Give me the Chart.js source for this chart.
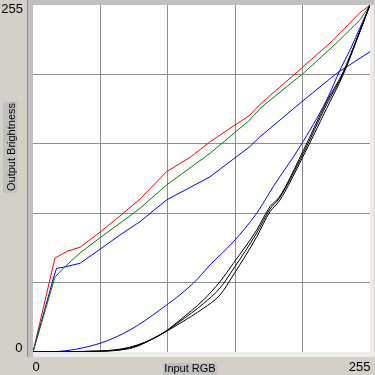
<!DOCTYPE html>
<html>
<head>
<meta charset="utf-8">
<script src="https://cdn.jsdelivr.net/npm/chart.js@4/dist/chart.umd.min.js"></script>
<style>
  html, body { margin:0; padding:0; background:#d4d0c8; }
  canvas { display:block; }
</style>
</head>
<body>
<canvas id="curvas" width="375" height="375"></canvas>
<script>
// ---- dados (entrada 0-255 -> saída 0-255) ----
const redX   = [0, 16.6, 25.7, 35.6, 50.7, 65.8, 81, 101, 118.8, 134, 164, 171.8, 204.5, 227, 247, 255];
const redY   = [0, 69, 74, 77, 88, 100, 112.4, 132.5, 143, 154.5, 174, 182, 209.7, 229, 249, 255];

const greenX = [0, 16.6, 22.9, 35.6, 50.7, 65.8, 81, 101, 134, 164, 171.8, 204.5, 228.5, 247.4, 255];
const greenY = [0, 55, 61.5, 72.8, 84, 94.6, 105.6, 122.7, 146, 170.5, 179, 204.8, 226, 244, 255];

const blueX  = [0, 15.4, 17.9, 22.9, 35.6, 50.7, 65.8, 81, 101, 134, 164, 171.8, 202, 229.8, 255];
const blueY  = [0, 54.2, 61.5, 62.2, 65.2, 75.5, 86, 95.8, 111.7, 128.8, 150.9, 158.2, 182.8, 204.8, 220.7];

const blue2X = [0, 15.4, 50.7, 73.4, 96, 121.3, 134, 151.6, 169.3, 181.8, 202, 222.2, 232.3, 239.9, 255];
const blue2Y = [0, 0.2, 6.4, 16.2, 30.9, 50.5, 64, 81, 102, 121.5, 150.9, 185.2, 207.2, 222, 255];

const blackX  = [0, 40, 73, 96, 111.2, 128.9, 141.5, 151.6, 169.3, 179.3, 186.4, 204.5, 222.2, 234.8, 244.9, 255];
const blackAY = [0, 0.5, 3.5, 12.5, 23.5, 38.2, 51.7, 65.2, 89.7, 106.8, 114, 148, 184, 206, 230, 255];
const blackBY = [0, 0.4, 3, 12.5, 22.5, 35.5, 47, 61, 87.5, 105, 113, 146, 182, 205, 229.5, 255];
const blackCY = [0, 0.3, 2.5, 12.5, 21.1, 32.1, 41.9, 56.6, 84.7, 103.1, 111, 144, 179, 204, 229, 255];

const tickMin = 0;
const tickMax = 255;
const tickStep = 51;

function pontos(xs, ys){
    return xs.map((x,i)=>({x:x, y:ys[i]}));
}

function serie(xs, ys, cor, suave){
    return {
        data: pontos(xs, ys),
        borderColor: cor,
        borderWidth: 1,
        pointRadius: 0,
        showLine: true,
        tension: 0,
        cubicInterpolationMode: suave ? 'monotone' : 'default',
        fill: false
    };
}

// fundo, moldura e textos
const moldura = {
    id: 'moldura',
    beforeDraw(chart){
        const ctx = chart.ctx;
        const a = chart.chartArea;
        ctx.save();
        ctx.fillStyle = '#d4d0c8';
        ctx.fillRect(0, 0, chart.width, chart.height);
        // borda afundada
        ctx.fillStyle = '#c0c0c0';
        ctx.fillRect(27, 0, a.right + 4 - 27, a.bottom + 5);
        ctx.fillStyle = '#ececec';
        ctx.fillRect(a.left, a.bottom, a.right + 4 - a.left, 5);
        ctx.fillRect(a.right, a.top, 4, a.bottom + 5 - a.top);
        ctx.fillStyle = '#8a8a8a';
        ctx.fillRect(27, 0, 1, a.bottom + 5);
        ctx.fillStyle = '#ffffff';
        ctx.fillRect(a.left, a.top, a.right - a.left, a.bottom - a.top);
        ctx.restore();
    },
    afterDraw(chart){
        const ctx = chart.ctx;
        const a = chart.chartArea;
        ctx.save();
        ctx.fillStyle = '#000';
        ctx.font = '13px "Liberation Sans", Arial, sans-serif';
        ctx.textBaseline = 'alphabetic';
        ctx.textAlign = 'right';
        ctx.fillText(String(tickMax), 23, 13);
        ctx.fillText(String(tickMin), 22.5, a.bottom);
        ctx.textAlign = 'left';
        ctx.fillText(String(tickMin), a.left - 0.5, 371);
        ctx.textAlign = 'right';
        ctx.fillText(String(tickMax), a.right + 0.5, 371);

        // títulos com caixa cinza
        ctx.font = '11px "Liberation Sans", Arial, sans-serif';
        ctx.fillStyle = '#c0c0c0';
        ctx.fillRect(163, 363, 54, 12);
        ctx.fillRect(3, 102, 14, 91);
        ctx.fillStyle = '#000';
        ctx.textAlign = 'center';
        ctx.fillText('Input RGB', 190, 371.5);
        ctx.translate(15, 147);
        ctx.rotate(-Math.PI / 2);
        ctx.fillText('Output Brightness', 0, 0);
        ctx.restore();
    }
};

function corGrade(c){
    const v = c.tick.value;
    return (v === tickMin || v === tickMax) ? 'rgba(0,0,0,0)' : '#8e8e8e';
}

new Chart(document.getElementById('curvas'), {
    type: 'scatter',
    data: {
        datasets: [
            serie(blackX, blackAY, '#000000', true),
            serie(blackX, blackBY, '#000000', true),
            serie(blackX, blackCY, '#000000', true),
            serie(blue2X, blue2Y, '#0000ff', true),
            serie(greenX, greenY, '#008000', false),
            serie(blueX, blueY, '#0000ff', false),
            serie(redX, redY, '#ff0000', false)
        ]
    },
    options: {
        responsive: false,
        animation: false,
        devicePixelRatio: 1,
        layout: { padding: { left: 33, top: 5, right: 5, bottom: 23 } },
        plugins: {
            legend: { display: false },
            tooltip: { enabled: false }
        },
        scales: {
            x: {
                type: 'linear', min: tickMin, max: tickMax,
                ticks: { stepSize: tickStep, display: false },
                grid: { color: corGrade, lineWidth: 1, drawTicks: false },
                border: { display: false }
            },
            y: {
                type: 'linear', min: tickMin, max: tickMax,
                ticks: { stepSize: tickStep, display: false },
                grid: { color: corGrade, lineWidth: 1, drawTicks: false },
                border: { display: false }
            }
        }
    },
    plugins: [moldura]
});
</script>
</body>
</html>
